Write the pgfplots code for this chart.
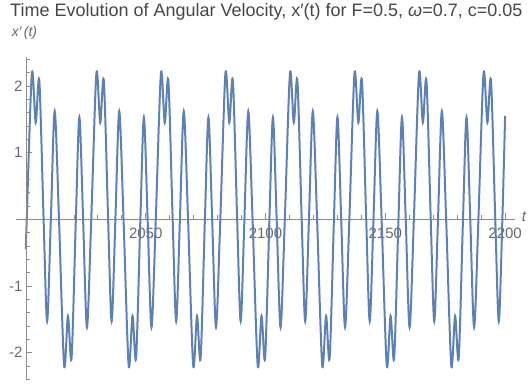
\documentclass[border=0pt]{standalone}
\usepackage{fontspec}
\setmainfont{Liberation Sans}
\usepackage{pgfplots}
\usepackage{pgfplotstable}
\pgfplotsset{compat=1.18}
\definecolor{mblue}{RGB}{94,129,181}
\definecolor{axgray}{RGB}{140,140,140}
\definecolor{lblgray}{RGB}{105,105,105}
\definecolor{titlegray}{RGB}{70,70,70}

\pgfplotstableread{
t v
2000.00 -0.45
2000.35 0
2002.50 2.19
2004.10 1.45
2005.60 2.08
2007.39 0
2008.86 -1.53
2010.42 0
2012.03 1.62
2013.82 0
2015.96 -2.19
2017.56 -1.45
2019.06 -2.08
2020.85 0
2022.32 1.53
2023.88 0
2025.49 -1.62
2027.28 0
2029.43 2.19
2031.03 1.45
2032.53 2.08
2034.32 0
2035.79 -1.53
2037.35 0
2038.96 1.62
2040.75 0
2042.89 -2.19
2044.49 -1.45
2045.99 -2.08
2047.78 0
2049.25 1.53
2050.81 0
2052.42 -1.62
2054.21 0
2056.36 2.19
2057.96 1.45
2059.46 2.08
2061.25 0
2062.72 -1.53
2064.28 0
2065.89 1.62
2067.68 0
2069.82 -2.19
2071.42 -1.45
2072.92 -2.08
2074.71 0
2076.18 1.53
2077.74 0
2079.35 -1.62
2081.14 0
2083.29 2.19
2084.88 1.45
2086.38 2.08
2088.17 0
2089.64 -1.53
2091.20 0
2092.81 1.62
2094.60 0
2096.74 -2.19
2098.34 -1.45
2099.84 -2.08
2101.63 0
2103.10 1.53
2104.66 0
2106.27 -1.62
2108.06 0
2110.21 2.19
2111.81 1.45
2113.31 2.08
2115.10 0
2116.57 -1.53
2118.13 0
2119.74 1.62
2121.53 0
2123.67 -2.19
2125.27 -1.45
2126.77 -2.08
2128.56 0
2130.03 1.53
2131.59 0
2133.20 -1.62
2134.99 0
2137.14 2.19
2138.74 1.45
2140.24 2.08
2142.03 0
2143.50 -1.53
2145.06 0
2146.67 1.62
2148.46 0
2150.60 -2.19
2152.20 -1.45
2153.70 -2.08
2155.49 0
2156.96 1.53
2158.52 0
2160.13 -1.62
2161.92 0
2164.07 2.19
2165.67 1.45
2167.17 2.08
2168.96 0
2170.43 -1.53
2171.99 0
2173.60 1.62
2175.39 0
2177.53 -2.19
2179.13 -1.45
2180.63 -2.08
2182.42 0
2183.89 1.53
2185.45 0
2187.06 -1.62
2188.85 0
2191.00 2.19
2192.60 1.45
2194.10 2.08
2195.89 0
2197.36 -1.53
2198.85 0
2200.00 1.55
}\datatable

\begin{document}
\begin{tikzpicture}
\begin{axis}[name=main, scale only axis, width=498.4pt, height=323.4pt,
  xmin=1996, xmax=2204, ymin=-2.41, ymax=2.44,
  axis x line=middle, axis y line=none,
  axis line style={-, draw=axgray, line width=0.6pt},
  every inner x axis line/.append style={-},
  xtick={2050,2100,2150,2200},
  minor xtick={2010,2020,2030,2040,2060,2070,2080,2090,2110,2120,2130,2140,2160,2170,2180,2190},
  xticklabel style={font=\fontsize{15}{15}\selectfont, text=lblgray, yshift=-5pt},
  major tick length=6pt, minor tick length=4pt,
  tick style={draw=axgray, line width=0.6pt},
  xtick align=inside,
  /pgf/number format/assume math mode=true,
  /pgf/number format/set thousands separator={},
  clip=false]
\addplot[mblue, line width=2pt, smooth] table[x=t, y=v] {\datatable};
\node[anchor=base west, font=\fontsize{18}{20}\selectfont, text=titlegray, inner sep=0pt]
  at ([xshift=-6.3pt, yshift=40.5pt]rel axis cs:0,1) {Time Evolution of Angular Velocity, x′(t) for F=0.5, \textit{ω}=0.7, c=0.05};
\node[anchor=base west, font=\itshape\fontsize{14}{15}\selectfont, text=lblgray, inner sep=0pt]
  at ([xshift=-4.6pt, yshift=20pt]rel axis cs:0,1) {x′\,(t)};
\node[anchor=west, font=\itshape\fontsize{15}{15}\selectfont, text=lblgray, inner sep=0pt]
  at ([xshift=7pt, yshift=3pt]axis cs:2204,0) {t};
\end{axis}
\begin{axis}[scale only axis, width=498.4pt, height=323.4pt,
  xmin=-4, xmax=204, ymin=-2.41, ymax=2.44,
  axis x line=none, axis y line=middle,
  axis line style={-, draw=axgray, line width=0.6pt},
  every inner y axis line/.append style={-},
  ytick={-2,-1,1,2},
  minor ytick={-2.4,-2.2,-1.8,-1.6,-1.4,-1.2,-0.8,-0.6,-0.4,-0.2,0.2,0.4,0.6,0.8,1.2,1.4,1.6,1.8,2.2,2.4},
  yticklabel style={font=\fontsize{15}{15}\selectfont, text=lblgray},
  major tick length=6pt, minor tick length=4pt,
  tick style={draw=axgray, line width=0.6pt},
  ytick align=inside,
  /pgf/number format/assume math mode=true]
\end{axis}
\path ([shift={(-16.3pt,-3pt)}]main.south west) rectangle ++(532pt,383pt);
\end{tikzpicture}
\end{document}
